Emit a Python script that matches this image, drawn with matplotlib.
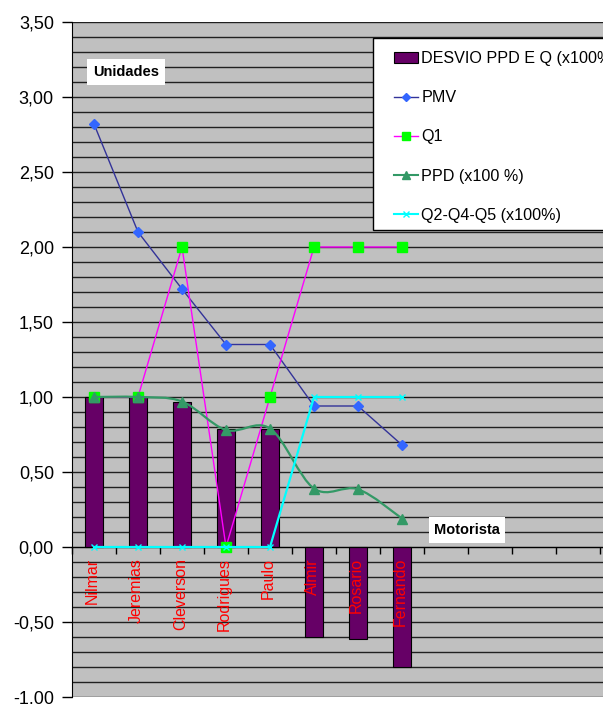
import numpy as np
import matplotlib
matplotlib.use("Agg")
import matplotlib.pyplot as plt
import matplotlib.patches as patches
from matplotlib.path import Path
from matplotlib.lines import Line2D
from matplotlib.ticker import MultipleLocator, FuncFormatter

plt.rcParams['font.family'] = ['Liberation Sans', 'DejaVu Sans']

motoristas = ["Nilmar", "Jeremias", "Cleverson", "Rodrigues", "Paulo",
              "Almir", "Rosario", "Fernando"]
desvio = [1.00, 1.00, 0.97, 0.79, 0.79, -0.60, -0.61, -0.80]
pmv = [2.82, 2.10, 1.72, 1.35, 1.35, 0.94, 0.94, 0.68]
q1 = [1, 1, 2, 0, 1, 2, 2, 2]
ppd = [1.00, 1.00, 0.97, 0.78, 0.79, 0.39, 0.385, 0.19]
q245 = [0, 0, 0, 0, 0, 1, 1, 1]

W, H = 603, 704
fig = plt.figure(figsize=(W / 100, H / 100), dpi=100)
fig.patch.set_facecolor("white")

# plot area in pixels (Excel chart is cropped on the right)
left, right, top, bottom = 72, 603, 22, 697
ax = fig.add_axes([left / W, 1 - bottom / H, (right - left) / W, (bottom - top) / H])
ax.set_facecolor("#C0C0C0")

x = np.arange(len(motoristas))
ax.set_xlim(-0.5, -0.5 + (right - left) / 44)
ax.set_ylim(-1.0, 3.5)

# grid
ax.yaxis.set_major_locator(MultipleLocator(0.5))
ax.yaxis.set_minor_locator(MultipleLocator(0.1))
ax.grid(which="both", axis="y", color="#202020", linewidth=1.0, zorder=0)
ax.set_axisbelow(True)
ax.yaxis.set_major_formatter(FuncFormatter(lambda v, p: f"{v:.2f}".replace(".", ",")))
ax.tick_params(axis="y", which="major", length=7, width=1, pad=6, labelsize=13, direction="out")
ax.tick_params(axis="y", which="minor", length=0)

ax.spines["top"].set_visible(False)
ax.spines["right"].set_visible(False)
ax.spines["bottom"].set_position(("data", 0))
ax.spines["left"].set_color("black")
ax.set_xticks(np.arange(-0.5, 12, 1.0))
ax.set_xticklabels([])
ax.tick_params(axis="x", length=5, width=1, direction="out")

# bars
ax.bar(x, desvio, width=0.4, color="#660066", edgecolor="black", linewidth=0.8, zorder=2)

# lines
ax.plot(x, pmv, color="#333399", lw=1, marker="D", ms=5, mfc="#3366FF", mec="#3366FF", zorder=3)
ax.plot(x, q1, color="#FF00FF", lw=1, marker="s", ms=7, mfc="#00FF00", mec="#00FF00", zorder=3)

# PPD: Excel smoothed line (cubic bezier through the points)
pts = np.column_stack([x, ppd]).astype(float)
ext = np.vstack([pts[0], pts, pts[-1]])
verts = [tuple(pts[0])]
codes = [Path.MOVETO]
for i in range(len(pts) - 1):
    p0, p1, p2, p3 = ext[i], ext[i + 1], ext[i + 2], ext[i + 3]
    c1 = p1 + (p2 - p0) / 6
    c2 = p2 - (p3 - p1) / 6
    verts += [tuple(c1), tuple(c2), tuple(p2)]
    codes += [Path.CURVE4] * 3
ax.add_patch(patches.PathPatch(Path(verts, codes), facecolor="none", edgecolor="#339966",
                               lw=1.6, transform=ax.transData, zorder=4))
ax.plot(x, ppd, ls="none", marker="^", ms=7, mfc="#339966", mec="#339966", zorder=4)

ax.plot(x, q245, color="#00FFFF", lw=1.6, marker="x", ms=5, mew=1, mec="#00FFFF", zorder=4)

# category labels next to axis
for xi, name in zip(x, motoristas):
    ax.annotate(name, (xi, 0), xytext=(-1, -8), textcoords="offset points",
                rotation=90, ha="center", va="top", color="red", fontsize=11.5, zorder=5)

# axis titles
ax.text(126 / W, 1 - 72 / H, "Unidades", transform=fig.transFigure, ha="center", va="center",
        fontsize=10.5, fontweight="bold",
        bbox=dict(facecolor="white", edgecolor="none", pad=4))
ax.text(467 / W, 1 - 530 / H, "Motorista", transform=fig.transFigure, ha="center", va="center",
        fontsize=10.5, fontweight="bold",
        bbox=dict(facecolor="white", edgecolor="none", pad=4))

# legend box
fig.patches.append(patches.Rectangle((373 / W, 1 - 230 / H), (W - 373 + 10) / W, 192 / H,
                                     transform=fig.transFigure, facecolor="white",
                                     edgecolor="black", lw=1, zorder=10))
handles = [
    patches.Patch(facecolor="#660066", edgecolor="black", lw=0.8),
    Line2D([], [], color="#333399", lw=1, marker="D", ms=4, mfc="#3366FF", mec="#3366FF"),
    Line2D([], [], color="#FF00FF", lw=1, marker="s", ms=6, mfc="#00FF00", mec="#00FF00"),
    Line2D([], [], color="#339966", lw=1.5, marker="^", ms=6, mfc="#339966", mec="#339966"),
    Line2D([], [], color="#00FFFF", lw=1.5, marker="x", ms=5, mec="#00FFFF"),
]
labels = ["DESVIO PPD E Q (x100%)", "PMV", "Q1", "PPD (x100 %)", "Q2-Q4-Q5 (x100%)"]
leg = fig.legend(handles, labels, loc="upper left", bbox_to_anchor=(394 / W, 1 - 51 / H),
                 frameon=False, fontsize=11.6, handlelength=1.5, handletextpad=0.2,
                 labelspacing=1.5, borderpad=0, borderaxespad=0)
leg.set_zorder(11)

fig.savefig("out.png", dpi=100)
